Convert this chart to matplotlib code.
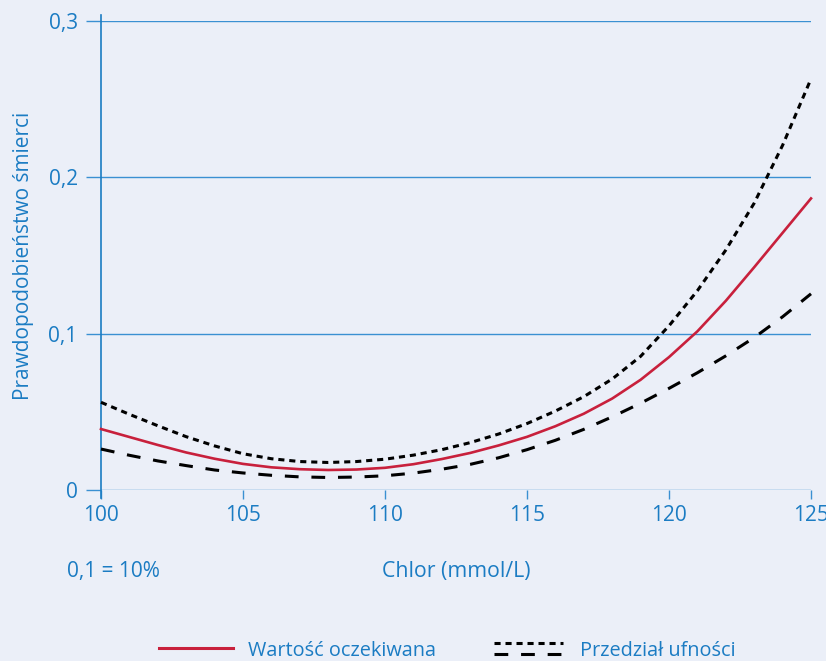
import matplotlib
matplotlib.use('Agg')
import matplotlib.pyplot as plt
from matplotlib.lines import Line2D

# ---- data ----
chlor = [100, 101, 102, 103, 104, 105, 106, 107, 108, 109, 110, 111, 112,
         113, 114, 115, 116, 117, 118, 119, 120, 121, 122, 123, 124, 125]
expected = [0.0390, 0.0339, 0.0288, 0.0240, 0.0200, 0.0167, 0.0145, 0.0133,
            0.0128, 0.0131, 0.0142, 0.0165, 0.0198, 0.0237, 0.0285, 0.0340,
            0.0408, 0.0488, 0.0585, 0.0705, 0.0850, 0.1015, 0.1210, 0.1425,
            0.1645, 0.1865]
upper = [0.0561, 0.0484, 0.0411, 0.0341, 0.0282, 0.0232, 0.0200, 0.0182,
         0.0176, 0.0182, 0.0197, 0.0223, 0.0258, 0.0303, 0.0358, 0.0425,
         0.0505, 0.0597, 0.0710, 0.0855, 0.1050, 0.1275, 0.1535, 0.1835,
         0.2205, 0.2630]
lower = [0.0262, 0.0222, 0.0186, 0.0156, 0.0128, 0.0109, 0.0094, 0.0084,
         0.0080, 0.0083, 0.0091, 0.0108, 0.0133, 0.0164, 0.0206, 0.0258,
         0.0318, 0.0388, 0.0468, 0.0555, 0.0650, 0.0750, 0.0858, 0.0975,
         0.1108, 0.1255]
xticks = [100, 105, 110, 115, 120, 125]
xtick_labels = ['100', '105', '110', '115', '120', '125']
yticks = [0, 0.1, 0.2, 0.3]
ytick_labels = ['0', '0,1', '0,2', '0,3']
xlabel = 'Chlor (mmol/L)'
ylabel = 'Prawdopodobieństwo śmierci'
note = '0,1 = 10%'
legend_labels = ['Wartość oczekiwana', 'Przedział ufności']

plt.rcParams['font.family'] = ['Open Sans', 'DejaVu Sans']

BG = '#ebeff8'
BLUE = '#1b7cc3'
GRID = '#3a90d2'
RED = '#c8203c'
W, H = 826, 661

fig = plt.figure(figsize=(W / 100, H / 100), dpi=100, facecolor=BG)
ax = fig.add_axes([101 / W, 1 - 490 / H, 710 / W, 469 / H], facecolor=BG)
ax.set_xlim(100, 125)
ax.set_ylim(0, 0.3)
for s in ax.spines.values():
    s.set_visible(False)

ax.set_yticks(yticks)
ax.set_yticklabels(ytick_labels)
ax.set_xticks(xticks)
ax.set_xticklabels(xtick_labels)
ax.grid(axis='y', color=GRID, lw=1.0, zorder=1)
ax.grid(axis='x', visible=False)
ax.tick_params(axis='y', length=10.8, width=1.0, color=GRID, pad=6.0,
               labelsize=15, labelcolor=BLUE)
ax.tick_params(axis='x', length=6.5, width=1.0, color=GRID, pad=4.0,
               labelsize=15, labelcolor=BLUE)
ax.axvline(100, ymin=-0.017, ymax=1.013, color=BLUE, lw=1.2,
           clip_on=False, zorder=3)

ax.plot(chlor, upper, color='black', lw=2.2, dashes=(2.0, 1.6),
        clip_on=False, zorder=4)
ax.plot(chlor, lower, color='black', lw=2.2, dashes=(4.5, 4.2),
        clip_on=False, zorder=4)
ax.plot(chlor, expected, color=RED, lw=1.9, clip_on=False, zorder=5)

fig.text(113.5 / W, 1 - 577 / H, note, ha='center', va='baseline',
         fontsize=15, color=BLUE)
fig.text(456 / W, 1 - 577 / H, xlabel, ha='center', va='baseline',
         fontsize=15.3, color=BLUE)
fig.text(24 / W, 1 - 256 / H, ylabel, ha='center', va='center',
         rotation=90, fontsize=15, color=BLUE)

# legend (drawn manually)
fig.add_artist(Line2D([159 / W, 233 / W], [1 - 648 / H] * 2, color=RED,
                      lw=2.2))
fig.add_artist(Line2D([494 / W, 563 / W], [1 - 643 / H] * 2, color='black',
                      lw=2.2, dashes=(2.0, 1.6)))
fig.add_artist(Line2D([494 / W, 563 / W], [1 - 654 / H] * 2, color='black',
                      lw=2.2, dashes=(4.5, 4.2)))
fig.text(248 / W, 1 - 655.5 / H, legend_labels[0], ha='left', va='baseline',
         fontsize=14.3, color=BLUE)
fig.text(580 / W, 1 - 655.5 / H, legend_labels[1], ha='left', va='baseline',
         fontsize=14.3, color=BLUE)

fig.savefig('out.png', dpi=100, facecolor=BG)
